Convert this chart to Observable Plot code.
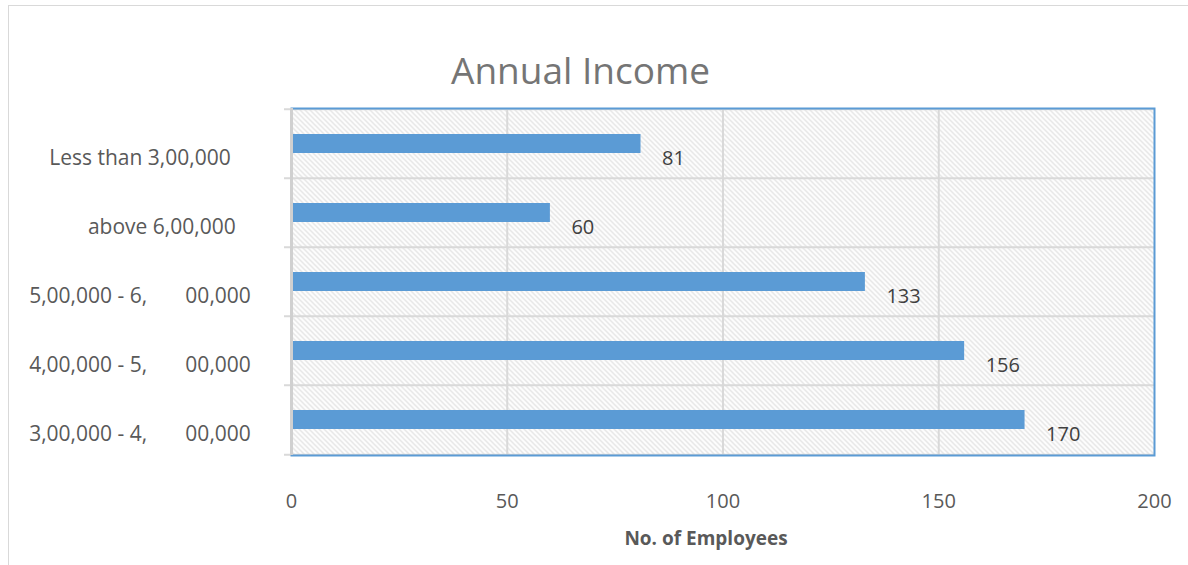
<!DOCTYPE html>
<html>
<head>
<meta charset="utf-8">
<script src="https://cdn.jsdelivr.net/npm/d3@7"></script>
<script src="https://cdn.jsdelivr.net/npm/@observablehq/plot@0.6"></script>
<style>
  body { margin: 0; background: #fff; font-family: "Open Sans", sans-serif; }
  #wrap { position: relative; width: 1188px; height: 565px; overflow: hidden; }
  #frame { position: absolute; left: 8px; top: 5px; width: 1400px; height: 800px;
           border-top: 1px solid #d9d9d9; border-left: 1px solid #d9d9d9; }
  #title { position: absolute; left: 0; width: 1161px; top: 46px; text-align: center;
           font-size: 37px; color: #757575; line-height: 48px; }
  #xtitle { position: absolute; left: 0; width: 1412px; top: 526px; text-align: center;
            font-size: 19px; font-weight: bold; color: #595959; line-height: 24px; }
  #chart { position: absolute; left: 0; top: 0; }
</style>
</head>
<body>
<div id="wrap">
  <div id="frame"></div>
  <div id="chart"></div>
  <div id="title">Annual Income</div>
  <div id="xtitle">No. of Employees</div>
</div>
<script>
const NB = "\u00a0";
const categories = [
  "Less than 3,00,000",
  NB.repeat(8) + "above 6,00,000",
  "5,00,000 - 6," + NB.repeat(7) + "00,000",
  "4,00,000 - 5," + NB.repeat(7) + "00,000",
  "3,00,000 - 4," + NB.repeat(7) + "00,000"
];
const employees = [81, 60, 133, 156, 170];
const xTicks = [0, 50, 100, 150, 200];
const gridX = [50, 100, 150];

const data = categories.map((c, i) => ({category: c, employees: employees[i]}));

const W = 1188, H = 565;
const mL = 291, mR = 34, mT = 108, mB = 110;
const bw = (H - mT - mB) / categories.length;

const plot = Plot.plot({
  width: W, height: H,
  marginLeft: mL, marginRight: mR, marginTop: mT, marginBottom: mB,
  style: {fontFamily: '"Open Sans", sans-serif', fontSize: "20px", background: "transparent", overflow: "visible"},
  x: {domain: [0, 200], label: null},
  y: {domain: categories, padding: 0, label: null},
  marks: [
    Plot.frame({fill: "url(#hatch)", stroke: null}),
    Plot.ruleX(gridX, {stroke: "#d9d9d9", strokeWidth: 2}),
    Plot.ruleY(categories, {y: d => d, dy: -bw / 2, insetLeft: -7, stroke: "#d9d9d9", strokeWidth: 2}),
    Plot.ruleY(categories.slice(-1), {y: d => d, dy: bw / 2, insetLeft: -7, stroke: "#d9d9d9", strokeWidth: 2}),
    Plot.barX(data, {x: "employees", y: "category", fill: "#5b9bd5", insetTop: 25, insetBottom: 25}),
    Plot.frame({stroke: "#5b9bd5", strokeWidth: 2}),
    Plot.ruleX([0], {stroke: "#d0d0d0", strokeWidth: 3}),
    Plot.text(data, {x: "employees", y: "category", text: d => String(d.employees),
      dx: 21, dy: 15, textAnchor: "start", fontSize: 20, fill: "#404040"}),
    Plot.axisX({ticks: xTicks, tickSize: 0, tickPadding: 38, fontSize: 20, fill: "#595959", label: null}),
    Plot.axisY({tickSize: 0, tickPadding: 0, textAnchor: "middle", dx: -151.5, dy: 14, fontSize: 21, fill: "#595959", label: null})
  ]
});

const ns = "http://www.w3.org/2000/svg";
const defs = document.createElementNS(ns, "defs");
defs.innerHTML = '<pattern id="hatch" patternUnits="userSpaceOnUse" width="5" height="5">' +
  '<rect width="5" height="5" fill="#ffffff"/>' +
  '<path d="M-1,-1L6,6M-1,4L1,6M4,-1L6,1" stroke="#dcdcdc" stroke-width="1.2"/></pattern>';
plot.prepend(defs);
document.getElementById("chart").appendChild(plot);
</script>
</body>
</html>
